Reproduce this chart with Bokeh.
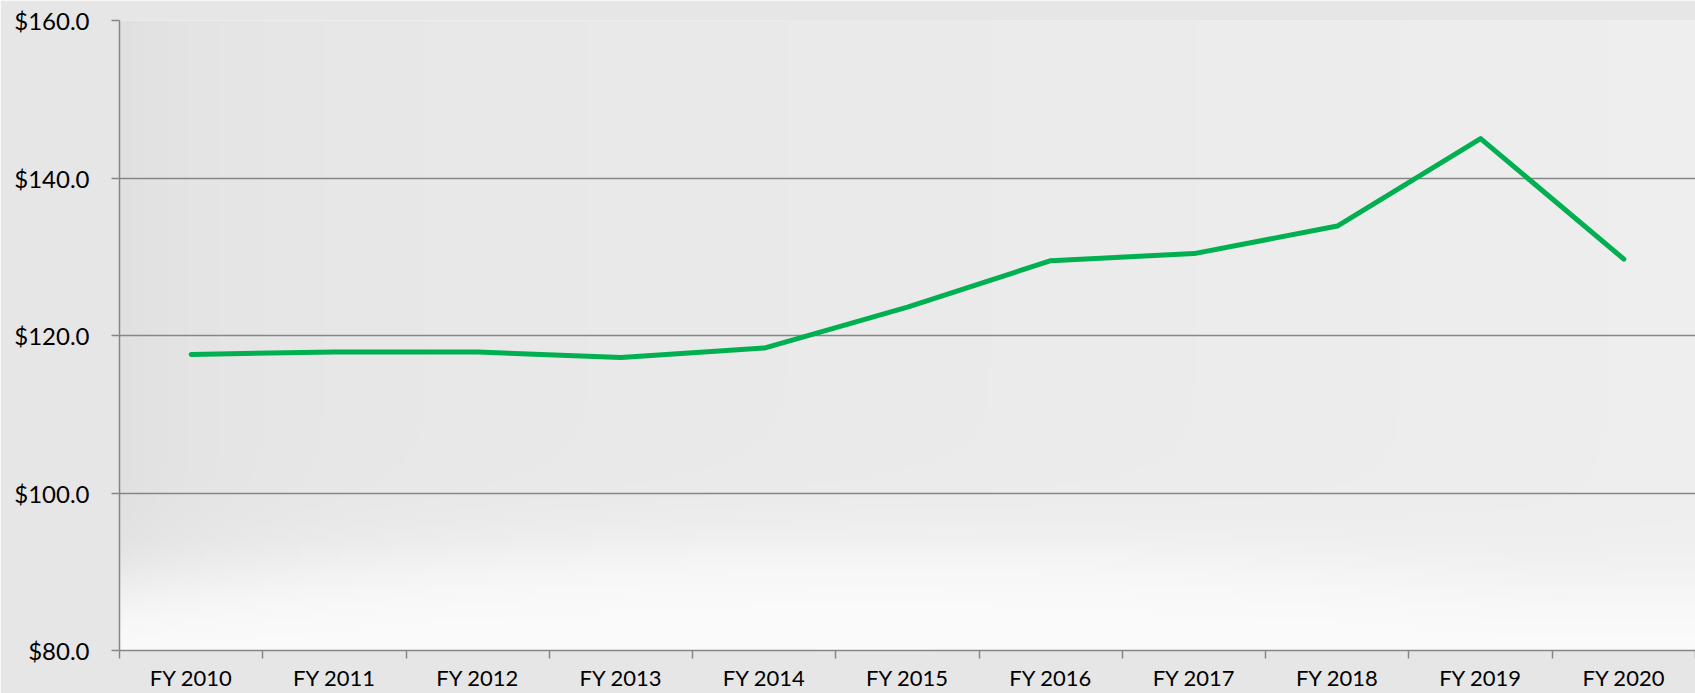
import numpy as np
from bokeh.plotting import figure
from bokeh.models import FixedTicker, Range1d, NumeralTickFormatter
from bokeh.embed import file_html
from bokeh.resources import INLINE

years = ["FY 2010", "FY 2011", "FY 2012", "FY 2013", "FY 2014", "FY 2015",
         "FY 2016", "FY 2017", "FY 2018", "FY 2019", "FY 2020"]
values = [117.6, 117.9, 117.9, 117.2, 118.4, 123.6, 129.5, 130.4, 133.9, 145.0, 129.7]
y_ticks = [80, 100, 120, 140, 160]

FONT = "Lato"
n = len(years)
xs = [i + 0.5 for i in range(n)]
y_lo, y_hi = y_ticks[0], y_ticks[-1]

p = figure(width=1695, height=693, output_backend="svg", toolbar_location=None,
           x_range=Range1d(0, n), y_range=Range1d(y_lo, y_hi),
           min_border_left=119, min_border_right=0, min_border_top=20, min_border_bottom=43)

p.background_fill_color = "#eaeaea"
p.border_fill_color = "#e6e6e6"
p.outline_line_color = None

# soft decorative background shading (not data)
H, W = 120, 300
u = np.linspace(0, 1, W)[None, :]
v = np.linspace(0, 1, H)[:, None]
shade = 0.905 + 0.03 * u - 0.025 * np.exp(-u / 0.06)
curve = 0.10 + 0.06 * np.sin(np.pi * np.clip(u * 1.1, 0, 1))
white = 1.0 / (1.0 + np.exp((v - curve) / 0.035))
shade = shade + (0.985 - shade) * white
g = (np.clip(shade, 0, 1) * 255).astype(np.uint32)
img = (255 << 24) | (g << 16) | (g << 8) | g
bg = p.image_rgba(image=[img.astype(np.uint32)], x=0, y=y_lo, dw=n, dh=y_hi - y_lo)
bg.level = "image"

p.line(xs, values, line_color="#00b050", line_width=5, line_cap="round", line_join="round")

# x axis: labels at category centres, ticks between categories
p.xaxis.ticker = FixedTicker(ticks=xs, minor_ticks=list(range(n + 1)))
p.xaxis.major_label_overrides = {x: lab for x, lab in zip(xs, years)}
p.xaxis.major_tick_out = 0
p.xaxis.major_tick_in = 0
p.xaxis.minor_tick_out = 8
p.xaxis.minor_tick_in = 0
p.xaxis.minor_tick_line_color = "#868686"
p.xaxis.minor_tick_line_width = 1.5
p.xaxis.axis_line_color = "#868686"
p.xaxis.axis_line_width = 1.5
p.xaxis.major_label_standoff = 5
p.xaxis.major_label_text_font = FONT
p.xaxis.major_label_text_font_size = "22px"
p.xaxis.major_label_text_color = "#000000"
p.xgrid.grid_line_color = None

# y axis
p.yaxis.ticker = FixedTicker(ticks=y_ticks, minor_ticks=[])
p.yaxis.formatter = NumeralTickFormatter(format="$0.0")
p.yaxis.major_tick_out = 8
p.yaxis.major_tick_in = 0
p.yaxis.major_tick_line_color = "#868686"
p.yaxis.major_tick_line_width = 1.5
p.yaxis.axis_line_color = "#868686"
p.yaxis.axis_line_width = 1.5
p.yaxis.major_label_standoff = 22
p.yaxis.major_label_text_font = FONT
p.yaxis.major_label_text_font_size = "24px"
p.yaxis.major_label_text_color = "#000000"
p.ygrid.grid_line_color = "#868686"
p.ygrid.grid_line_width = 1.5

open("out.html", "w").write(file_html(p, INLINE))
